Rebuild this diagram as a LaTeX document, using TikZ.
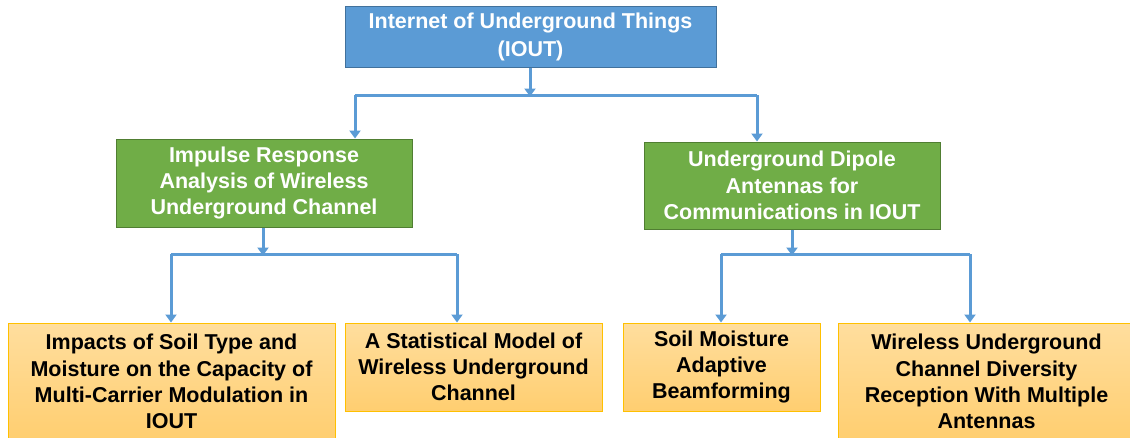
\documentclass[tikz,border=0pt]{standalone}
\usepackage{fontspec}
\setmainfont{Liberation Sans}
\usetikzlibrary{arrows.meta}
\definecolor{cblue}{HTML}{5B9BD5}
\definecolor{cblueb}{HTML}{41719C}
\definecolor{cgreen}{HTML}{70AD47}
\definecolor{cgreenb}{HTML}{507E32}
\definecolor{corgT}{HTML}{FFDE9E}
\definecolor{corgB}{HTML}{FFCE70}
\definecolor{corgb}{HTML}{FFC000}
\tikzset{
  boxbase/.style={rectangle, inner sep=0pt, align=center, font=\bfseries\fontsize{21.5}{26.3}\selectfont},
  topbox/.style={boxbase, fill=cblue, draw=cblueb, line width=1pt, text=white, font=\bfseries\fontsize{21.5}{28}\selectfont},
  midbox/.style={boxbase, fill=cgreen, draw=cgreenb, line width=1pt, text=white},
  leafbox/.style={boxbase, top color=corgT, bottom color=corgB, draw=corgb, line width=1pt, text=black},
  conn/.style={draw=cblue, line width=3pt},
  arr/.style={conn, -{Triangle[width=11pt,length=8pt]}}
}
\begin{document}
\begin{tikzpicture}[x=1pt,y=-1pt]
\useasboundingbox (0,0) rectangle (1130,437);
\fill[white] (0,0) rectangle (1130,437);
\node[topbox, minimum width=371pt, minimum height=61pt] (top) at (530.5,36.5) {Internet of Underground Things\\(IOUT)};
\node[midbox, minimum width=296pt, minimum height=88pt] (g1) at (264,183) {Impulse Response\\Analysis of Wireless\\Underground Channel};
\node[midbox, minimum width=296pt, minimum height=87pt] (g2) at (792,185.5) {Underground Dipole\\Antennas for\\Communications in IOUT};
\node[leafbox, minimum width=327pt, minimum height=117pt] (o1) at (171.5,381.5) {Impacts of Soil Type and\\Moisture on the Capacity of\\Multi-Carrier Modulation in\\IOUT};
\node[leafbox, minimum width=257pt, minimum height=88pt] (o2) at (473.5,367) {A Statistical Model of\\Wireless Underground\\Channel};
\node[leafbox, minimum width=197pt, minimum height=88pt] (o3) at (721.5,367) {Soil Moisture\\Adaptive\\Beamforming};
\node[leafbox, minimum width=297pt, minimum height=117pt] (o4) at (986.5,381.5) {Wireless Underground\\Channel Diversity\\Reception With Multiple\\Antennas};
% junctions
\coordinate (j0) at (530,95);
\coordinate (j0l) at (355,95);
\coordinate (j0r) at (757,95);
\coordinate (j1) at (263,254);
\coordinate (j1l) at (171,254);
\coordinate (j1r) at (457,254);
\coordinate (j2) at (792,254);
\coordinate (j2l) at (721,254);
\coordinate (j2r) at (970,254);
% connectors
\draw[arr] (top.south -| j0) -- ([yshift=-1.5pt]j0);
\draw[conn, line join=round] (j0l) -- (j0r);
\draw[arr] (j0l) -- (j0l |- g1.north);
\draw[arr] (j0r) -- (j0r |- g2.north);
\draw[arr] (g1.south -| j1) -- ([yshift=-1.5pt]j1);
\draw[conn, line join=round] (j1l) -- (j1r);
\draw[arr] (j1l) -- (j1l |- o1.north);
\draw[arr] (j1r) -- (j1r |- o2.north);
\draw[arr] (g2.south -| j2) -- ([yshift=-1.5pt]j2);
\draw[conn, line join=round] (j2l) -- (j2r);
\draw[arr] (j2l) -- (j2l |- o3.north);
\draw[arr] (j2r) -- (j2r |- o4.north);
\end{tikzpicture}
\end{document}
